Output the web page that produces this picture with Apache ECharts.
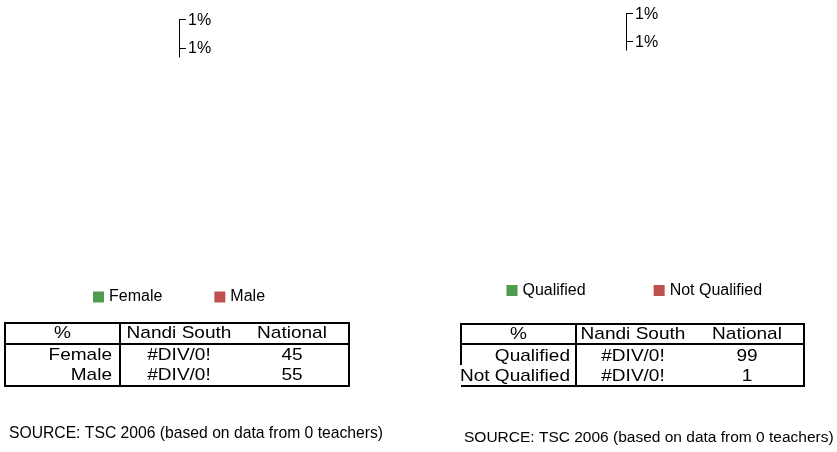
<!DOCTYPE html>
<html>
<head>
<meta charset="utf-8">
<script src="https://cdn.jsdelivr.net/npm/echarts@6/dist/echarts.min.js"></script>
<style>html,body{margin:0;padding:0;background:#fff}#c{width:837px;height:452px}</style>
</head>
<body>
<div id="c"></div>
<script>
// ---- data ----
const genderCategories = ['Female', 'Male'];
const genderTeacherCounts = [0, 0];
const genderNandiSouth = ['#DIV/0!', '#DIV/0!'];
const genderNational = [45, 55];
const qualCategories = ['Qualified', 'Not Qualified'];
const qualTeacherCounts = [0, 0];
const qualNandiSouth = ['#DIV/0!', '#DIV/0!'];
const qualNational = [99, 1];
const tableHeaders = ['%', 'Nandi South', 'National'];
const pieLabelsLeft = ['1%', '1%'];
const pieLabelsRight = ['1%', '1%'];
const teacherTotal = 0;
const sourceText = 'SOURCE: TSC 2006 (based on data from ' + teacherTotal + ' teachers)';
const colors = ['#509B4F', '#C0504D'];

const FONT = '"Liberation Sans", Arial, sans-serif';
const chart = echarts.init(document.getElementById('c'));

function txt(x, y, text, size, align, sx) {
  return {
    type: 'text', x: x, y: y, scaleX: sx || 1,
    style: {
      text: String(text), x: 0, y: 0, fill: '#000',
      font: size + 'px ' + FONT,
      align: align, verticalAlign: 'middle',
      textAlign: align, textVerticalAlign: 'middle'
    }
  };
}
function line(x1, y1, x2, y2, w) {
  return { type: 'line', shape: { x1: x1, y1: y1, x2: x2, y2: y2 }, style: { stroke: '#000', lineWidth: w } };
}

function table(g, o) {
  const sx = 1.12, fs = 17;
  g.push(line(o.left, o.top, o.right, o.top, 2));
  g.push(line(o.left, o.bottom, o.right, o.bottom, 2));
  g.push(line(o.right, o.top - 1, o.right, o.bottom + 1, 2));
  g.push(line(o.left, o.top - 1, o.left, o.leftBottom, 2));
  g.push(line(o.left, o.head, o.right, o.head, 2));
  g.push(line(o.div, o.top, o.div, o.bottom, 2));
  g.push(txt((o.left + o.div) / 2, o.rows[0], tableHeaders[0], fs, 'center', sx));
  g.push(txt(o.c2, o.rows[0], tableHeaders[1], fs, 'center', sx));
  g.push(txt(o.c3, o.rows[0], tableHeaders[2], fs, 'center', sx));
  for (let i = 0; i < o.cats.length; i++) {
    g.push(txt(o.catRight, o.rows[i + 1], o.cats[i], fs, 'right', sx));
    g.push(txt(o.c2, o.rows[i + 1], o.local[i], fs, 'center', sx));
    g.push(txt(o.c3, o.rows[i + 1], o.nat[i], fs, 'center', sx));
  }
}

const graphic = [];
table(graphic, { left: 5, right: 349, top: 323, bottom: 386, head: 344, div: 120, leftBottom: 387, catRight: 112,
  c2: 179, c3: 292, rows: [333, 355, 375], cats: genderCategories, local: genderNandiSouth, nat: genderNational });
table(graphic, { left: 461, right: 804, top: 324, bottom: 386, head: 344, div: 576, leftBottom: 365, catRight: 570,
  c2: 633, c3: 747, rows: [334, 356, 376], cats: qualCategories, local: qualNandiSouth, nat: qualNational });

// pie label leaders
graphic.push(line(179.5, 19.5, 179.5, 57.5, 1));
graphic.push(line(179, 19.5, 186, 19.5, 1));
graphic.push(line(179, 48.5, 186, 48.5, 1));
graphic.push(txt(188, 21, pieLabelsLeft[0], 16, 'left'));
graphic.push(txt(188, 49, pieLabelsLeft[1], 16, 'left'));
graphic.push(line(626.5, 13.5, 626.5, 50.5, 1));
graphic.push(line(626, 13.5, 633, 13.5, 1));
graphic.push(line(626, 41.5, 633, 41.5, 1));
graphic.push(txt(635, 15, pieLabelsRight[0], 16, 'left'));
graphic.push(txt(635, 43, pieLabelsRight[1], 16, 'left'));

// source
graphic.push(txt(9, 434, sourceText, 15.7, 'left'));
graphic.push(txt(464, 438, sourceText, 15.5, 'left'));

chart.setOption({
  animation: false,
  color: colors,
  legend: [
    { data: genderCategories, left: 93, top: 289, icon: 'rect', itemWidth: 11, itemHeight: 11, itemGap: 52,
      padding: 0, textStyle: { fontFamily: FONT, fontSize: 16, color: '#000' }, selectedMode: false },
    { data: qualCategories, left: 506.5, top: 282.5, icon: 'rect', itemWidth: 11, itemHeight: 11, itemGap: 68,
      padding: 0, textStyle: { fontFamily: FONT, fontSize: 16, color: '#000' }, selectedMode: false }
  ],
  series: [
    { type: 'pie', center: [180, 150], radius: 90, stillShowZeroSum: false, showEmptyCircle: false,
      label: { show: false }, labelLine: { show: false },
      data: genderCategories.map((n, i) => ({ name: n, value: genderTeacherCounts[i] })) },
    { type: 'pie', center: [630, 150], radius: 90, stillShowZeroSum: false, showEmptyCircle: false,
      label: { show: false }, labelLine: { show: false },
      data: qualCategories.map((n, i) => ({ name: n, value: qualTeacherCounts[i] })) }
  ],
  graphic: graphic
});
</script>
</body>
</html>
